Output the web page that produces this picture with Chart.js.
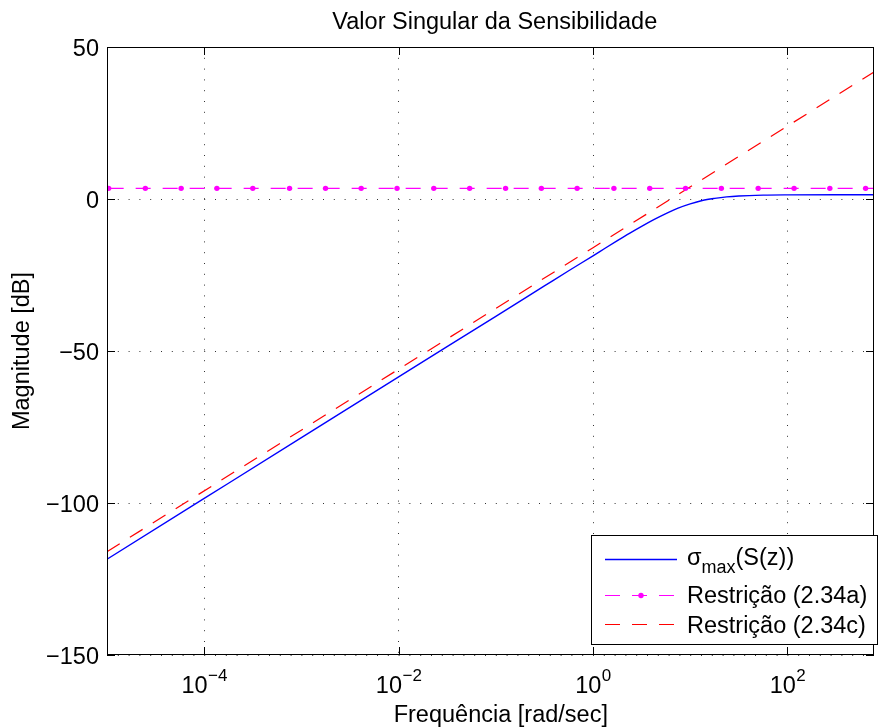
<!DOCTYPE html>
<html>
<head>
<meta charset="utf-8">
<script src="https://cdn.jsdelivr.net/npm/chart.js@4"></script>
<style>html,body{margin:0;padding:0;background:#fff;}canvas{display:block;}</style>
</head>
<body>
<canvas id="c" width="878" height="728"></canvas>
<script>
// ---- data ----
const titleText = 'Valor Singular da Sensibilidade';
const xLabelText = 'Frequência [rad/sec]';
const yLabelText = 'Magnitude [dB]';

// sigma_max(S(z))
const sigmaFreq = [1e-5, 1e-4, 1e-3, 1e-2, 0.1, 0.316, 0.562, 1.0, 1.33, 1.78, 2.37, 3.16, 4.22, 5.62, 7.5, 10, 13.3, 17.8, 23.7, 31.6, 56.2, 100, 316, 777];
const sigmaDb   = [-118.5, -98.5, -78.5, -58.5, -38.6, -28.6, -23.6, -18.7, -16.2, -13.7, -11.3, -9.0, -6.8, -4.8, -3.0, -1.6, -0.5, 0.2, 0.7, 1.0, 1.27, 1.36, 1.4, 1.4];

// Restrição (2.34a) — constant bound with markers
const resAFreq = [1.04e-5, 2.48e-5, 5.79e-5, 1.35e-4, 3.16e-4, 7.55e-4, 1.77e-3, 4.12e-3, 9.63e-3, 0.0230, 0.0538, 0.126, 0.294, 0.686, 1.64, 3.83, 8.95, 20.9, 50.0, 117, 273, 637, 777];
const resADb   = [3.5, 3.5, 3.5, 3.5, 3.5, 3.5, 3.5, 3.5, 3.5, 3.5, 3.5, 3.5, 3.5, 3.5, 3.5, 3.5, 3.5, 3.5, 3.5, 3.5, 3.5, 3.5, 3.5];
const resAMarked = 22; // number of points carrying a marker

// Restrição (2.34c) — straight 20 dB/dec bound
const resCFreq = [1e-5, 1, 777];
const resCDb   = [-116.0, -16.0, 41.8];

const xTickExps = [-4, -2, 0, 2];
const yTicks = [50, 0, -50, -100, -150];
const legendLabels = ['σ|max|(S(z))', 'Restrição (2.34a)', 'Restrição (2.34c)'];

const toPts = (xs, ys) => xs.map((v, i) => ({x: v, y: ys[i]}));
const FONT = '"Liberation Sans", Arial, Helvetica, sans-serif';

const decor = {
  id: 'decor',
  afterDatasetsDraw(chart) {
    const {ctx, chartArea: a, scales: {x, y}} = chart;
    ctx.save();
    ctx.strokeStyle = '#000';
    ctx.lineWidth = 1;
    // axes box
    ctx.strokeRect(a.left + 0.5, a.top + 0.5, a.right - a.left - 1, a.bottom - a.top - 1);
    // major ticks (inside)
    ctx.beginPath();
    yTicks.forEach(v => {
      const py = Math.round(y.getPixelForValue(v)) + 0.5;
      ctx.moveTo(a.left, py); ctx.lineTo(a.left + 8, py);
      ctx.moveTo(a.right, py); ctx.lineTo(a.right - 8, py);
    });
    xTickExps.forEach(e => {
      const px = Math.round(x.getPixelForValue(Math.pow(10, e))) + 0.5;
      ctx.moveTo(px, a.bottom); ctx.lineTo(px, a.bottom - 8);
      ctx.moveTo(px, a.top); ctx.lineTo(px, a.top + 8);
    });
    ctx.stroke();

    // y tick labels
    ctx.fillStyle = '#000';
    ctx.font = '23.5px ' + FONT;
    ctx.textAlign = 'right';
    ctx.textBaseline = 'alphabetic';
    yTicks.forEach(v => {
      const py = y.getPixelForValue(v);
      const s = v < 0 ? '\u2212' + Math.abs(v) : String(v);
      ctx.fillText(s, 99, py + 9.3);
    });
    // x tick labels 10^e
    xTickExps.forEach(e => {
      const px = x.getPixelForValue(Math.pow(10, e));
      ctx.font = '23.5px ' + FONT;
      const wb = ctx.measureText('10').width;
      const es = e < 0 ? '\u2212' + Math.abs(e) : String(e);
      ctx.font = '17px ' + FONT;
      const we = ctx.measureText(es).width;
      const x0 = px - (wb + we) / 2;
      ctx.textAlign = 'left';
      ctx.font = '23.5px ' + FONT;
      ctx.fillText('10', x0, 692.7);
      ctx.font = '17px ' + FONT;
      ctx.fillText(es, x0 + wb + 0.5, 680.5);
    });

    // legend
    const L = {x1: 591.5, y1: 535.5, x2: 877.5, y2: 644.5};
    ctx.fillStyle = '#fff';
    ctx.fillRect(L.x1, L.y1, L.x2 - L.x1, L.y2 - L.y1);
    ctx.strokeStyle = '#000';
    ctx.lineWidth = 1;
    ctx.strokeRect(L.x1, L.y1, L.x2 - L.x1, L.y2 - L.y1);
    const lx1 = 605, lx2 = 677, tx = 687;
    // row 1
    ctx.strokeStyle = '#0000ff'; ctx.lineWidth = 1.4; ctx.setLineDash([]);
    ctx.beginPath(); ctx.moveTo(lx1, 559.5); ctx.lineTo(lx2, 559.5); ctx.stroke();
    ctx.fillStyle = '#000'; ctx.textAlign = 'left';
    const parts = legendLabels[0].split('|');
    ctx.font = '23.5px ' + FONT;
    ctx.fillText(parts[0], tx, 565);
    let cx = tx + ctx.measureText(parts[0]).width;
    ctx.font = '18px ' + FONT;
    ctx.fillText(parts[1], cx, 573.3);
    cx += ctx.measureText(parts[1]).width;
    ctx.font = '23.5px ' + FONT;
    ctx.fillText(parts[2], cx, 565);
    // row 2
    ctx.strokeStyle = '#ff00ff'; ctx.lineWidth = 1.2; ctx.setLineDash([15, 12]);
    ctx.beginPath(); ctx.moveTo(lx1, 595.5); ctx.lineTo(lx2, 595.5); ctx.stroke();
    ctx.setLineDash([]);
    ctx.fillStyle = '#ff00ff';
    ctx.beginPath(); ctx.arc(641, 595.5, 2.7, 0, Math.PI * 2); ctx.fill();
    ctx.fillStyle = '#000';
    ctx.fillText(legendLabels[1], tx, 603.3);
    // row 3
    ctx.strokeStyle = '#ff0000'; ctx.lineWidth = 1.2; ctx.setLineDash([15, 12]);
    ctx.beginPath(); ctx.moveTo(lx1, 624.5); ctx.lineTo(lx2, 624.5); ctx.stroke();
    ctx.setLineDash([]);
    ctx.fillText(legendLabels[2], tx, 632.7);
    ctx.restore();
  },
  afterDraw(chart) {
    const {ctx} = chart;
    ctx.save();
    ctx.fillStyle = '#000';
    ctx.font = '23.5px ' + FONT;
    ctx.textAlign = 'center';
    ctx.textBaseline = 'alphabetic';
    ctx.fillText(titleText, 494.8, 28.5);
    ctx.fillText(xLabelText, 500.8, 721.7);
    ctx.translate(29, 351);
    ctx.rotate(-Math.PI / 2);
    ctx.fillText(yLabelText, 0, 0);
    ctx.restore();
  }
};

new Chart(document.getElementById('c'), {
  type: 'line',
  data: {
    datasets: [
      {
        label: 'σmax(S(z))',
        data: toPts(sigmaFreq, sigmaDb),
        borderColor: '#0000ff',
        borderWidth: 1.4,
        pointRadius: 0,
        cubicInterpolationMode: 'monotone',
        fill: false
      },
      {
        label: 'Restrição (2.34a)',
        data: toPts(resAFreq, resADb),
        borderColor: '#ff00ff',
        backgroundColor: '#ff00ff',
        pointBackgroundColor: '#ff00ff',
        pointBorderColor: '#ff00ff',
        borderWidth: 1.2,
        borderDash: [15, 12],
        pointRadius: ctx => (ctx.dataIndex < resAMarked ? 2.7 : 0),
        pointBorderWidth: 0,
        tension: 0,
        fill: false
      },
      {
        label: 'Restrição (2.34c)',
        data: toPts(resCFreq, resCDb),
        borderColor: '#ff0000',
        borderWidth: 1.2,
        borderDash: [15, 12],
        pointRadius: 0,
        tension: 0,
        fill: false
      }
    ]
  },
  options: {
    responsive: false,
    animation: false,
    devicePixelRatio: 1,
    parsing: {xAxisKey: 'x', yAxisKey: 'y'},
    layout: {padding: {left: 107, top: 47, right: 0, bottom: 73}},
    plugins: {legend: {display: false}, title: {display: false}, tooltip: {enabled: false}},
    scales: {
      x: {
        type: 'logarithmic',
        min: 1e-5,
        max: 777,
        afterBuildTicks: s => { s.ticks = xTickExps.map(e => ({value: Math.pow(10, e)})); },
        ticks: {display: false},
        grid: {color: 'rgba(0,0,0,0.8)', lineWidth: 1, drawTicks: false, tickLength: 0},
        border: {display: false, dash: [1, 9.8]}
      },
      y: {
        type: 'linear',
        min: -150,
        max: 50,
        ticks: {display: false, stepSize: 50},
        grid: {color: 'rgba(0,0,0,0.8)', lineWidth: 1, drawTicks: false, tickLength: 0},
        border: {display: false, dash: [1, 9.8]}
      }
    }
  },
  plugins: [decor]
});
</script>
</body>
</html>
